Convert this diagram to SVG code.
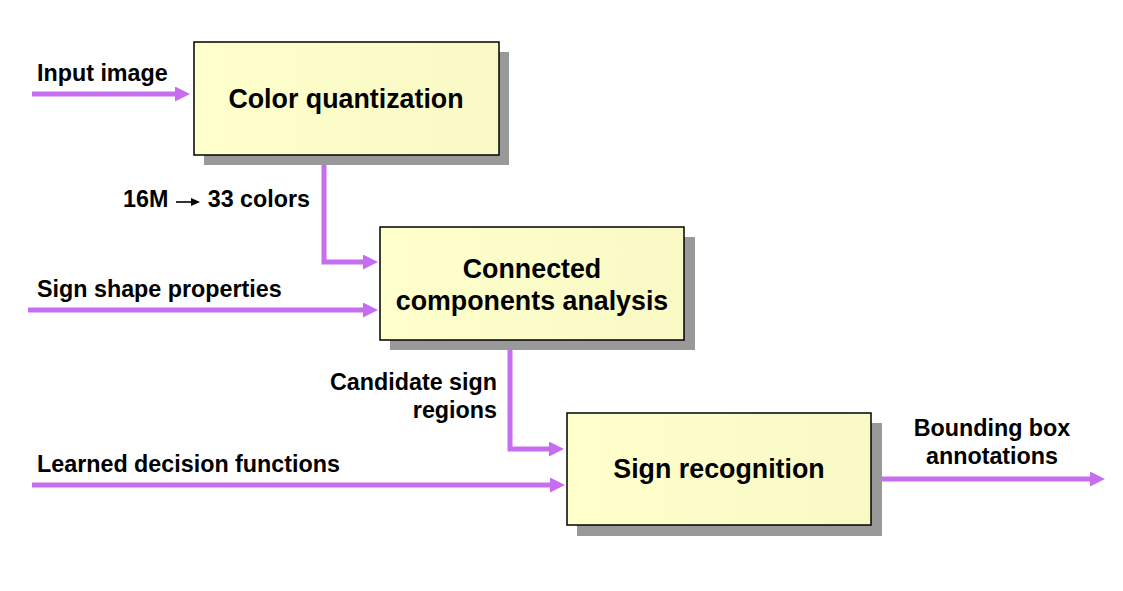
<svg xmlns="http://www.w3.org/2000/svg" width="1123" height="591" viewBox="0 0 1123 591">
<style>
.box{stroke:#000;stroke-width:1.5;fill:url(#g)}
.sh{fill:#999}
.bt{font-family:"Liberation Sans",Arial,sans-serif;font-weight:bold;font-size:26.8px;fill:#000;text-anchor:middle}
.lb{font-family:"Liberation Sans",Arial,sans-serif;font-weight:bold;font-size:23.3px;fill:#000}
.cn{fill:none;stroke:#C76EF0;stroke-width:5;marker-end:url(#ah)}
</style>
<defs>
<linearGradient id="g" x1="0" y1="0" x2="1" y2="0">
<stop offset="0" stop-color="#FFFFCC"/>
<stop offset="1" stop-color="#F9F9C6"/>
</linearGradient>
<marker id="ah" markerUnits="userSpaceOnUse" markerWidth="16" markerHeight="16" refX="3" refY="7.5" orient="auto">
<path d="M0,0 L15,7.5 L0,15 z" fill="#C76EF0"/>
</marker>
<marker id="bh" markerUnits="userSpaceOnUse" markerWidth="10" markerHeight="10" refX="1" refY="4" orient="auto">
<path d="M0,0 L9,4 L0,8 z" fill="#000"/>
</marker>
</defs>
<rect width="1123" height="591" fill="#fff"/>
<g id="connectors">
<line class="cn" x1="32" y1="94" x2="178" y2="94"/>
<polyline class="cn" points="324,165 324,262 366,262"/>
<line class="cn" x1="28" y1="310" x2="366" y2="310"/>
<polyline class="cn" points="510,350 510,449 552,449"/>
<line class="cn" x1="32" y1="485" x2="553" y2="485"/>
<line class="cn" x1="881" y1="479" x2="1093" y2="479"/>
</g>
<g id="node-color-quantization">
<rect class="sh" x="204" y="52" width="305" height="113"/>
<rect class="box" x="194" y="42" width="305" height="113"/>
<text class="bt" x="346" y="108">Color quantization</text>
</g>
<g id="node-connected-components">
<rect class="sh" x="390" y="237" width="305" height="113"/>
<rect class="box" x="380" y="227" width="304" height="113"/>
<text class="bt" x="532" y="278">Connected</text>
<text class="bt" x="532" y="310">components analysis</text>
</g>
<g id="node-sign-recognition">
<rect class="sh" x="577" y="423" width="305" height="113"/>
<rect class="box" x="567" y="413" width="304" height="112"/>
<text class="bt" x="719" y="478">Sign recognition</text>
</g>
<g id="labels">
<text class="lb" x="37" y="81">Input image</text>
<text class="lb" x="123" y="207">16M</text>
<line x1="176" y1="202" x2="192" y2="202" stroke="#000" stroke-width="1.6" marker-end="url(#bh)"/>
<text class="lb" x="310" y="207" text-anchor="end">33 colors</text>
<text class="lb" x="37" y="297">Sign shape properties</text>
<text class="lb" x="497" y="390" text-anchor="end">Candidate sign</text>
<text class="lb" x="497" y="418" text-anchor="end">regions</text>
<text class="lb" x="37" y="472">Learned decision functions</text>
<text class="lb" x="992" y="436" text-anchor="middle">Bounding box</text>
<text class="lb" x="992" y="464" text-anchor="middle">annotations</text>
</g>
</svg>
